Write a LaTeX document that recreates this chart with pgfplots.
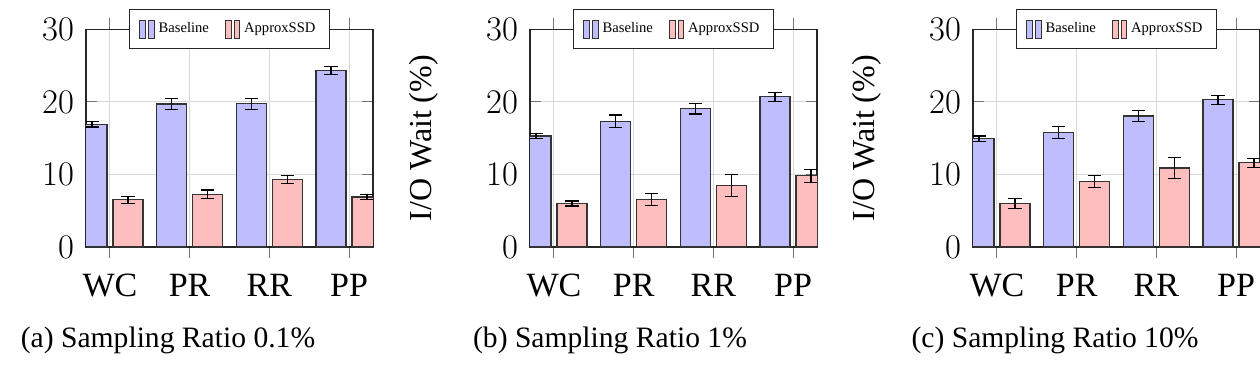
\documentclass[border=0pt]{standalone}
\usepackage{pgfplots}
\pgfplotsset{compat=1.18}
\usepackage{fontspec}
\setmainfont{Liberation Serif}
\definecolor{bfill}{RGB}{190,190,255}
\definecolor{rfill}{RGB}{255,190,190}
\pgfplotsset{
  myax/.style={
    scale only axis, width=143.5pt, height=108.85pt,
    ybar=3pt, bar width=15pt,
    xmin=-0.3, xmax=3.3, ymin=0, ymax=30,
    xtick={0,1,2,3}, xticklabels={WC,PR,RR,PP},
    ytick={0,10,20,30},
    grid=major, major grid style={gray!30, line width=0.5pt},
    xtick align=outside, ytick align=inside, major tick length=5.5pt,
    tick style={black!55, line width=0.5pt},
    axis line style={black!85, line width=0.6pt},
    xticklabel style={font=\fontsize{17}{20}\selectfont, yshift=-4.5pt},
    yticklabel style={font=\fontsize{18}{21}\selectfont, xshift=-2.5pt},
    ylabel style={font=\fontsize{16}{19}\selectfont, at={(axis description cs:-0.369,0.5)}, anchor=center},
    legend style={at={(0.5,1)}, anchor=center, legend columns=2,
      font=\fontsize{7.3}{8}\selectfont, draw=black!85, line width=0.6pt,
      inner xsep=5pt, inner ysep=4.5pt,
      /tikz/every even column/.append style={column sep=6pt}},
    legend image code/.code={
      \draw[##1, line width=0.5pt] (0pt,-4.5pt) rectangle (2.8pt,4.5pt);
      \draw[##1, line width=0.5pt] (4.3pt,-4.5pt) rectangle (7.1pt,4.5pt);},
    every axis plot/.append style={line width=0.6pt},
    error bars/y dir=both, error bars/y explicit,
    error bars/error bar style={black, line width=0.6pt},
    error bars/error mark options={rotate=90, mark size=3.3pt, black, line width=0.6pt},
  },
  bstyle/.style={draw=black!80, fill=bfill},
  rstyle/.style={draw=black!80, fill=rfill},
}
\begin{document}
\begin{tikzpicture}
% (a)
\begin{axis}[myax, at={(43pt,-123.5pt)}, anchor=south west]
\addplot[bstyle] coordinates {(0,16.9) +- (0,0.35) (1,19.7) +- (0,0.8) (2,19.75) +- (0,0.75) (3,24.3) +- (0,0.55)};
\addplot[rstyle] coordinates {(0,6.5) +- (0,0.5) (1,7.25) +- (0,0.6) (2,9.3) +- (0,0.5) (3,6.9) +- (0,0.35)};
\legend{Baseline,ApproxSSD}
\end{axis}
% (b)
\begin{axis}[myax, at={(265pt,-123.5pt)}, anchor=south west, ylabel={I/O Wait (\%)}]
\addplot[bstyle] coordinates {(0,15.3) +- (0,0.37) (1,17.35) +- (0,0.83) (2,19.05) +- (0,0.71) (3,20.7) +- (0,0.64)};
\addplot[rstyle] coordinates {(0,6.0) +- (0,0.35) (1,6.5) +- (0,0.83) (2,8.5) +- (0,1.5) (3,9.8) +- (0,0.87)};
\legend{Baseline,ApproxSSD}
\end{axis}
% (c)
\begin{axis}[myax, at={(486.5pt,-123.5pt)}, anchor=south west, ylabel={I/O Wait (\%)}]
\addplot[bstyle] coordinates {(0,14.9) +- (0,0.39) (1,15.75) +- (0,0.83) (2,18.05) +- (0,0.74) (3,20.3) +- (0,0.62)};
\addplot[rstyle] coordinates {(0,5.95) +- (0,0.69) (1,9.05) +- (0,0.8) (2,10.9) +- (0,1.47) (3,11.6) +- (0,0.64)};
\legend{Baseline,ApproxSSD}
\end{axis}
\node[anchor=base, font=\fontsize{14.8}{17}\selectfont] at (84pt,-173.5pt) {(a) Sampling Ratio 0.1\%};
\node[anchor=base, font=\fontsize{14.8}{17}\selectfont] at (305pt,-173.5pt) {(b) Sampling Ratio 1\%};
\node[anchor=base, font=\fontsize{14.8}{17}\selectfont] at (527.5pt,-173.5pt) {(c) Sampling Ratio 10\%};
\pgfresetboundingbox
\useasboundingbox (0pt,0pt) rectangle (630pt,-182.5pt);
\end{tikzpicture}
\end{document}
